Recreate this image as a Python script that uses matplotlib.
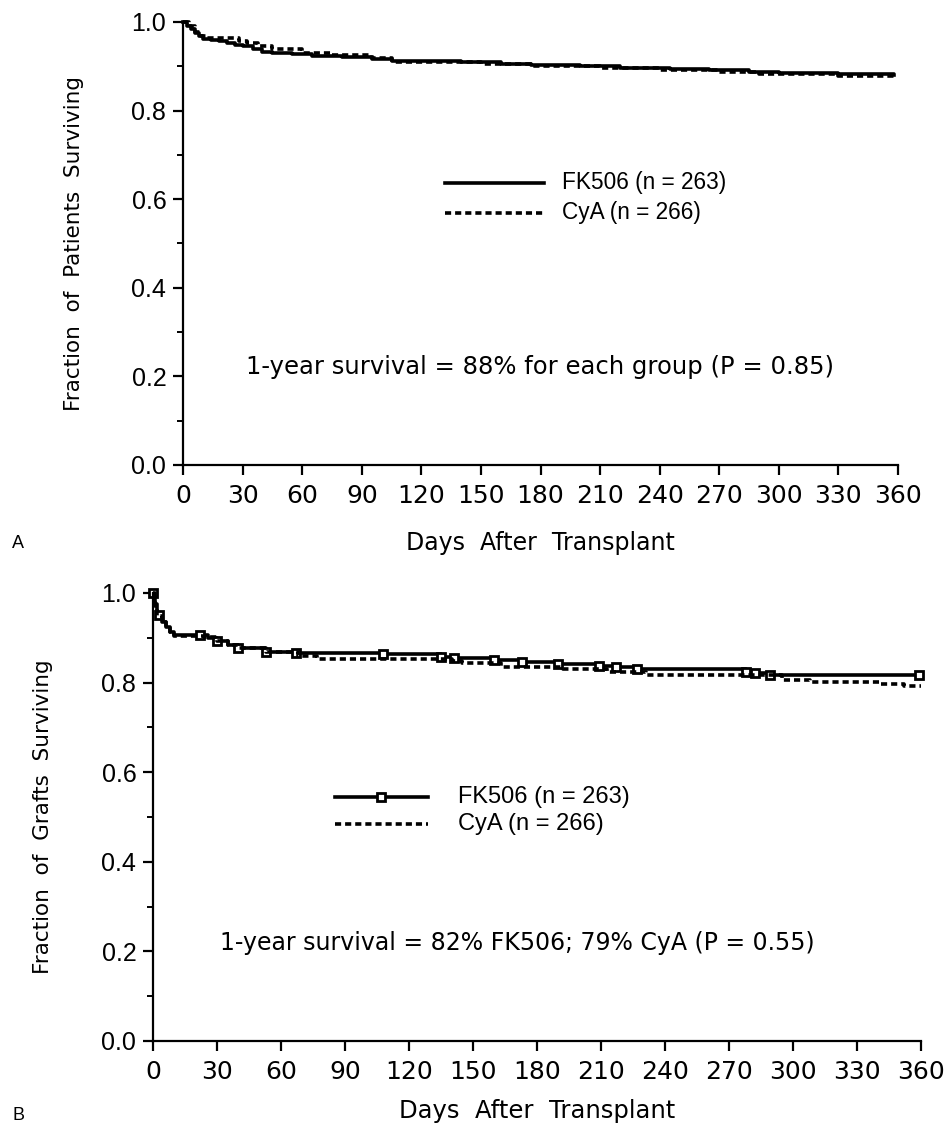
import matplotlib
matplotlib.use("Agg")
import matplotlib.pyplot as plt
from matplotlib.ticker import MultipleLocator

plt.rcParams['font.family'] = ['Liberation Sans', 'DejaVu Sans']

# ---- Panel A: patient survival ----
a_fk_days = [0, 2, 4, 6, 8, 10, 14, 18, 22, 26, 30, 35, 40, 45, 55, 65, 80, 95, 105, 120, 140, 160, 175, 200, 220, 245, 265, 285, 300, 330, 358]
a_fk_surv = [1.0, 0.992, 0.985, 0.976, 0.968, 0.962, 0.960, 0.958, 0.952, 0.948, 0.945, 0.938, 0.932, 0.930, 0.927, 0.924, 0.920, 0.916, 0.913, 0.911, 0.909, 0.906, 0.902, 0.900, 0.897, 0.894, 0.891, 0.887, 0.884, 0.882, 0.880]
a_cy_days = [0, 3, 6, 9, 12, 28, 32, 38, 45, 60, 75, 95, 105, 150, 175, 210, 240, 270, 290, 330, 358]
a_cy_surv = [1.0, 0.99, 0.978, 0.968, 0.965, 0.958, 0.952, 0.946, 0.94, 0.93, 0.925, 0.918, 0.909, 0.906, 0.900, 0.897, 0.892, 0.888, 0.882, 0.878, 0.876]

# ---- Panel B: graft survival ----
b_fk_days = [0, 1, 2, 4, 6, 8, 10, 22, 26, 30, 35, 40, 53, 67, 108, 135, 141, 160, 173, 190, 209, 217, 227, 278, 282, 289, 360]
b_fk_surv = [1.0, 0.975, 0.950, 0.936, 0.925, 0.914, 0.906, 0.906, 0.900, 0.893, 0.885, 0.877, 0.869, 0.867, 0.864, 0.858, 0.854, 0.850, 0.845, 0.841, 0.836, 0.834, 0.830, 0.824, 0.821, 0.817, 0.817]
b_fk_censor_days = [0, 3, 22, 30, 40, 53, 67, 108, 135, 141, 160, 173, 190, 209, 217, 227, 278, 282, 289, 359]
b_cy_days = [0, 1, 2, 4, 6, 8, 10, 24, 30, 35, 40, 53, 68, 77, 140, 145, 163, 192, 213, 231, 295, 308, 341, 352, 360]
b_cy_surv = [1.0, 0.972, 0.948, 0.935, 0.922, 0.912, 0.905, 0.902, 0.893, 0.885, 0.877, 0.869, 0.860, 0.853, 0.848, 0.843, 0.834, 0.830, 0.823, 0.818, 0.806, 0.801, 0.796, 0.792, 0.792]

x_ticks = list(range(0, 361, 30))
y_ticks = [0.0, 0.2, 0.4, 0.6, 0.8, 1.0]

legend_labels = ["FK506 (n = 263)", "CyA (n = 266)"]
a_note = "1-year survival = 88% for each group (P = 0.85)"
b_note = "1-year survival = 82% FK506; 79% CyA (P = 0.55)"

fig = plt.figure(figsize=(9.48, 11.24), dpi=100)
W, H = 948, 1124

def make_axes(l, r, b, t):
    return fig.add_axes([l / W, 1 - b / H, (r - l) / W, (b - t) / H])

axA = make_axes(183, 898, 465, 22)
axB = make_axes(153, 921, 1041, 593)

DASH = (0, (1.7, 1.1))
LW = 2.6
WIDE = ['DejaVu Sans']
MK = dict(marker='s', markersize=5.5, markerfacecolor='white',
          markeredgecolor='black', markeredgewidth=2.0)

def style(ax, ylabel, label_x, label_y, xlabel_size):
    ax.set_xlim(0, 360)
    ax.set_ylim(0, 1.0)
    ax.set_xticks(x_ticks)
    ax.set_xticklabels([str(v) for v in x_ticks], family=WIDE)
    ax.set_yticks(y_ticks)
    ax.set_yticklabels([f"{v:.1f}" for v in y_ticks])
    ax.yaxis.set_minor_locator(MultipleLocator(0.1))
    for s in ['top', 'right']:
        ax.spines[s].set_visible(False)
    for s in ['left', 'bottom']:
        ax.spines[s].set_linewidth(1.6)
    ax.tick_params(axis='both', which='major', direction='out', length=7, width=1.6, labelsize=18)
    ax.tick_params(axis='x', which='major', pad=6.5)
    ax.tick_params(axis='y', which='major', pad=5)
    ax.tick_params(axis='y', which='minor', direction='out', length=4, width=1.4)
    ax.set_xlabel("Days  After  Transplant", fontsize=xlabel_size, family=WIDE)
    ax.set_ylabel(ylabel, fontsize=15.5, family=WIDE)
    ax.xaxis.set_label_coords(0.5, label_x)
    ax.yaxis.set_label_coords(label_y, 0.5)

# Panel A
axA.step(a_fk_days, a_fk_surv, where='post', color='black', lw=LW, clip_on=False)
axA.step(a_cy_days, a_cy_surv, where='post', color='black', lw=LW, linestyle=DASH, clip_on=False)
style(axA, "Fraction  of  Patients  Surviving", -0.149, -0.138, 17)
axA.plot([132, 182], [0.637, 0.637], color='black', lw=LW)
axA.plot([132, 182], [0.569, 0.569], color='black', lw=LW, linestyle=DASH)
axA.text(191, 0.637, legend_labels[0], fontsize=16.3, va='center', ha='left')
axA.text(191, 0.569, legend_labels[1], fontsize=16.3, va='center', ha='left')
axA.text(180, 0.221, a_note, fontsize=17.5, ha='center', va='center', family=WIDE)

# Panel B
axB.step(b_fk_days, b_fk_surv, where='post', color='black', lw=LW, clip_on=False)
cens_vals = []
for d in b_fk_censor_days:
    idx = max(i for i, dd in enumerate(b_fk_days) if dd <= d)
    cens_vals.append(b_fk_surv[idx])
axB.plot(b_fk_censor_days, cens_vals, linestyle='none', clip_on=False, **MK)
axB.step(b_cy_days, b_cy_surv, where='post', color='black', lw=LW, linestyle=DASH, clip_on=False)
style(axB, "Fraction  of  Grafts  Surviving", -0.129, -0.130, 17.5)
axB.plot([85.3, 128.9], [0.544, 0.544], color='black', lw=LW)
axB.plot([107], [0.544], linestyle='none', **MK)
axB.plot([85.3, 128.9], [0.485, 0.485], color='black', lw=LW, linestyle=DASH)
axB.text(143, 0.544, legend_labels[0], fontsize=17, va='center', ha='left')
axB.text(143, 0.485, legend_labels[1], fontsize=17, va='center', ha='left')
axB.text(171, 0.219, b_note, fontsize=17, ha='center', va='center', family=WIDE)

fig.text(12 / W, 1 - 543 / H, "A", fontsize=13, ha='left', va='center')
fig.text(12 / W, 1 - 1116 / H, "B", fontsize=13, ha='left', va='center')

fig.savefig("out.png", dpi=100)
